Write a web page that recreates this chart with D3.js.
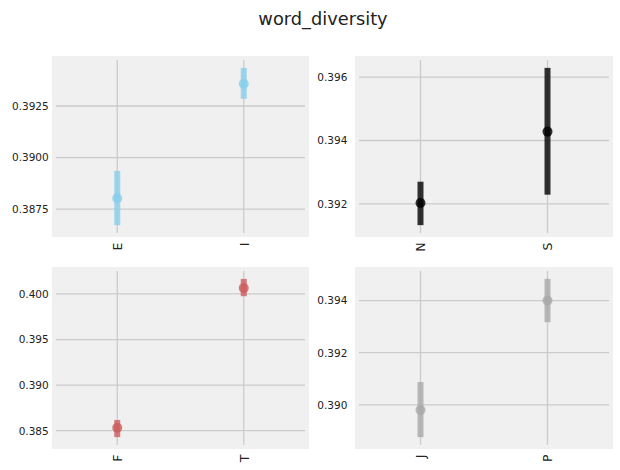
<!DOCTYPE html>
<html>
<head>
<meta charset="utf-8">
<script src="https://cdn.jsdelivr.net/npm/d3@7"></script>
<style>
  body { margin: 0; background: #fff; }
  text { font-family: "DejaVu Sans", sans-serif; fill: #222; }
</style>
</head>
<body>
<svg id="chart" width="620" height="470"></svg>
<script>
// values
const catsEI = ["E", "I"];
const meanEI = [0.38802, 0.39358];
const loEI = [0.38672, 0.39285];
const hiEI = [0.38935, 0.39435];
const ticksEI = [0.3875, 0.3900, 0.3925];

const catsNS = ["N", "S"];
const meanNS = [0.39203, 0.39428];
const loNS = [0.39133, 0.39229];
const hiNS = [0.39270, 0.39629];
const ticksNS = [0.392, 0.394, 0.396];

const catsFT = ["F", "T"];
const meanFT = [0.38532, 0.40064];
const loFT = [0.38430, 0.39975];
const hiFT = [0.38618, 0.40165];
const ticksFT = [0.385, 0.390, 0.395, 0.400];

const catsJP = ["J", "P"];
const meanJP = [0.38980, 0.39400];
const loJP = [0.38876, 0.39317];
const hiJP = [0.39087, 0.39483];
const ticksJP = [0.390, 0.392, 0.394];

const panels = [
  { cats: catsEI, mean: meanEI, lo: loEI, hi: hiEI, ticks: ticksEI, fmt: ".4f", color: "#87ceeb", box: [52, 56, 309, 237], lpad: 3.3 },
  { cats: catsNS, mean: meanNS, lo: loNS, hi: hiNS, ticks: ticksNS, fmt: ".3f", color: "#000000", box: [355, 56, 613, 237], lpad: 7.7 },
  { cats: catsFT, mean: meanFT, lo: loFT, hi: hiFT, ticks: ticksFT, fmt: ".3f", color: "#cd5c5c", box: [52, 267, 309, 449], lpad: 3.3 },
  { cats: catsJP, mean: meanJP, lo: loJP, hi: hiJP, ticks: ticksJP, fmt: ".3f", color: "#a9a9a9", box: [355, 267, 613, 449], lpad: 7.7 },
];

const inset = 4; // background patch spills a little past the axes area

const svg = d3.select("#chart");

svg.append("text")
  .attr("x", 323)
  .attr("y", 25)
  .attr("text-anchor", "middle")
  .style("font-size", "17.8px")
  .text("word_diversity");

panels.forEach((p) => {
  const [x0, y0, x1, y1] = p.box;
  const ix0 = x0 + inset, ix1 = x1 - inset, iy0 = y0 + inset, iy1 = y1 - inset;
  const rows = p.cats.map((c, i) => ({ cat: c, mean: p.mean[i], lo: p.lo[i], hi: p.hi[i] }));

  const lo = d3.min(rows, (d) => d.lo);
  const hi = d3.max(rows, (d) => d.hi);
  const pad = (hi - lo) * 0.05;

  const x = d3.scalePoint().domain(p.cats).range([x0 + 2, x1 - 2]).padding(0.5);
  const y = d3.scaleLinear().domain([lo - pad, hi + pad]).range([iy1, iy0]);

  const g = svg.append("g");

  g.append("rect")
    .attr("x", x0)
    .attr("y", y0)
    .attr("width", x1 - x0)
    .attr("height", y1 - y0)
    .attr("fill", "#f0f0f0");

  // grid
  g.selectAll(".hgrid")
    .data(p.ticks)
    .join("line")
    .attr("x1", ix0)
    .attr("x2", ix1)
    .attr("y1", (d) => y(d))
    .attr("y2", (d) => y(d))
    .attr("stroke", "#cbcbcb")
    .attr("stroke-width", 1.3);

  g.selectAll(".vgrid")
    .data(p.cats)
    .join("line")
    .attr("x1", (d) => x(d))
    .attr("x2", (d) => x(d))
    .attr("y1", iy0)
    .attr("y2", iy1)
    .attr("stroke", "#cbcbcb")
    .attr("stroke-width", 1.3);

  // axes: no domain line, no tick marks
  const yAxis = g.append("g")
    .attr("transform", `translate(${x0},0)`)
    .call(d3.axisLeft(y).tickValues(p.ticks).tickFormat(d3.format(p.fmt)).tickSize(0).tickPadding(p.lpad));
  yAxis.select(".domain").remove();
  yAxis.selectAll("text").style("font-size", "10.5px").style("font-family", "DejaVu Sans").attr("fill", "#222");

  const xAxis = g.append("g")
    .attr("transform", `translate(0,${y1})`)
    .call(d3.axisBottom(x).tickSize(0).tickPadding(0));
  xAxis.select(".domain").remove();
  xAxis.selectAll("text")
    .style("font-size", "12.5px")
    .style("font-family", "DejaVu Sans")
    .attr("fill", "#222")
    .attr("text-anchor", "end")
    .attr("dy", "0.35em")
    .attr("transform", "translate(0,5.5) rotate(-90)")
    .attr("x", 0)
    .attr("y", 0);

  // confidence bars and means
  g.selectAll(".ci")
    .data(rows)
    .join("line")
    .attr("x1", (d) => x(d.cat))
    .attr("x2", (d) => x(d.cat))
    .attr("y1", (d) => y(d.lo))
    .attr("y2", (d) => y(d.hi))
    .attr("stroke", p.color)
    .attr("stroke-width", 6)
    .attr("stroke-opacity", 0.8);

  g.selectAll(".pt")
    .data(rows)
    .join("circle")
    .attr("cx", (d) => x(d.cat))
    .attr("cy", (d) => y(d.mean))
    .attr("r", 5)
    .attr("fill", p.color)
    .attr("fill-opacity", 0.8);
});
</script>
</body>
</html>
